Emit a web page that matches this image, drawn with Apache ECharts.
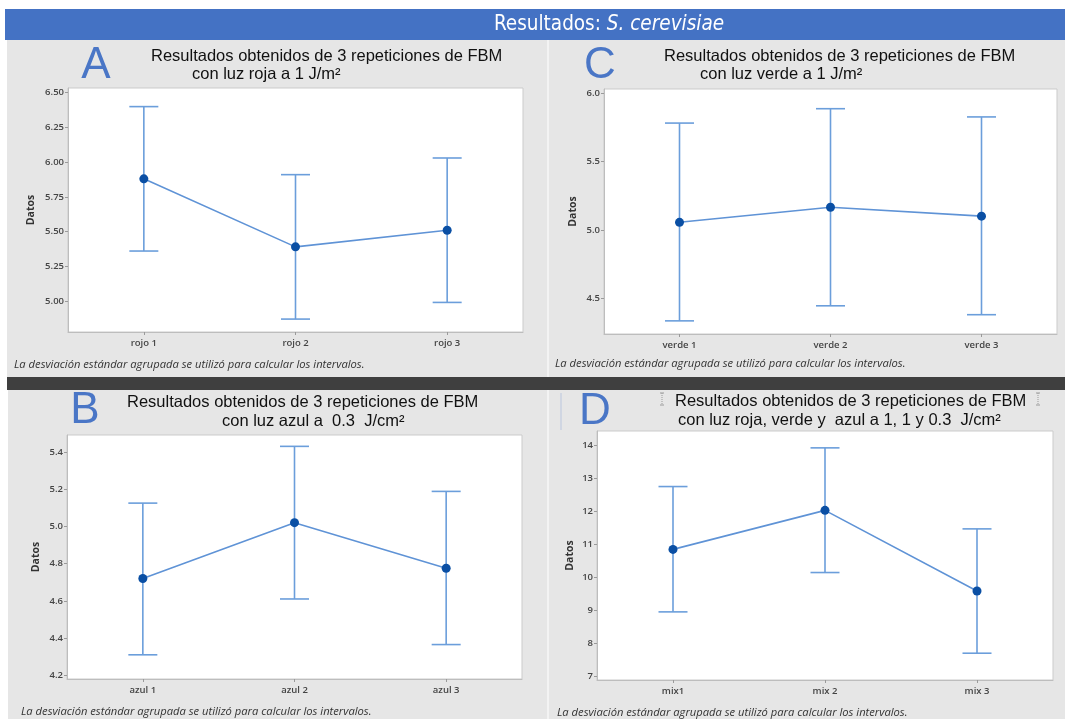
<!DOCTYPE html>
<html>
<head>
<meta charset="utf-8">
<script src="https://cdn.jsdelivr.net/npm/echarts@6/dist/echarts.min.js"></script>
<style>
  html, body { margin: 0; padding: 0; background: #ffffff; }
  #chart { width: 1065px; height: 719px; }
</style>
</head>
<body>
<div id="chart"></div>
<script>
// Panel A: red light
const catsA = ['rojo 1', 'rojo 2', 'rojo 3'];
const meanA = [5.88, 5.39, 5.51];
const lowA  = [5.36, 4.87, 4.99];
const highA = [6.40, 5.91, 6.03];
const ticksA = [5.00, 5.25, 5.50, 5.75, 6.00, 6.25, 6.50];

// Panel C: green light
const catsC = ['verde 1', 'verde 2', 'verde 3'];
const meanC = [5.055, 5.165, 5.10];
const lowC  = [4.335, 4.445, 4.38];
const highC = [5.78, 5.885, 5.825];
const ticksC = [4.5, 5.0, 5.5, 6.0];

// Panel B: blue light
const catsB = ['azul 1', 'azul 2', 'azul 3'];
const meanB = [4.72, 5.02, 4.775];
const lowB  = [4.31, 4.61, 4.365];
const highB = [5.125, 5.43, 5.188];
const ticksB = [4.2, 4.4, 4.6, 4.8, 5.0, 5.2, 5.4];

// Panel D: combined light
const catsD = ['mix1', 'mix 2', 'mix 3'];
const meanD = [10.84, 12.02, 9.58];
const lowD  = [8.95, 10.14, 7.70];
const highD = [12.74, 13.91, 11.46];
const ticksD = [7, 8, 9, 10, 11, 12, 13, 14];

const note = 'La desviación estándar agrupada se utilizó para calcular los intervalos.';

const chart = echarts.init(document.getElementById('chart'), null, { renderer: 'canvas', width: 1065, height: 719 });

const axisFont = 'Open Sans, sans-serif';
const titleFont = 'Liberation Sans, Arial, sans-serif';

const panels = [
  { cats: catsA, mean: meanA, low: lowA, high: highA, ticks: ticksA, dec: 2,
    grid: { left: 68, top: 88, width: 455, height: 244 }, min: 4.777, max: 6.534, nameGap: 31 },
  { cats: catsC, mean: meanC, low: lowC, high: highC, ticks: ticksC, dec: 1,
    grid: { left: 604, top: 89, width: 453, height: 245 }, min: 4.239, max: 6.029, nameGap: 25 },
  { cats: catsB, mean: meanB, low: lowB, high: highB, ticks: ticksB, dec: 1,
    grid: { left: 67, top: 435, width: 455, height: 244 }, min: 4.18, max: 5.491, nameGap: 25 },
  { cats: catsD, mean: meanD, low: lowD, high: highD, ticks: ticksD, dec: 0,
    grid: { left: 597, top: 431, width: 456, height: 249 }, min: 6.89, max: 14.42, nameGap: 21 }
];

const grids = [], xAxes = [], yAxes = [], series = [], frames = [];

panels.forEach(function (p, i) {
  grids.push(Object.assign({ show: false }, p.grid));

  // white plotting area with a thin frame
  frames.push({
    type: 'rect', z: -5, silent: true,
    shape: { x: p.grid.left, y: p.grid.top, width: p.grid.width, height: p.grid.height },
    style: { fill: '#ffffff', stroke: '#cbcbcb', lineWidth: 1 }
  });

  xAxes.push({
    type: 'category', gridIndex: i, data: p.cats, boundaryGap: true,
    axisLine: { show: true, lineStyle: { color: '#bdbdbd', width: 1 } },
    axisTick: { show: true, alignWithLabel: true, length: 3, lineStyle: { color: '#9a9a9a' } },
    axisLabel: { fontFamily: axisFont, fontSize: 9.5, fontWeight: 600, color: '#444', margin: 6 },
    splitLine: { show: false }
  });

  yAxes.push({
    type: 'value', gridIndex: i, min: p.min, max: p.max,
    name: 'Datos', nameLocation: 'middle', nameGap: p.nameGap, nameRotate: 90,
    nameMoveOverlap: false,
    nameTextStyle: { fontFamily: axisFont, fontSize: 10.5, fontWeight: 'bold', color: '#333' },
    axisLine: { show: true, lineStyle: { color: '#bdbdbd', width: 1 } },
    axisTick: { show: true, length: 3, customValues: p.ticks, lineStyle: { color: '#9a9a9a' } },
    axisLabel: {
      fontFamily: axisFont, fontSize: 9.5, fontWeight: 600, color: '#444', margin: 4,
      customValues: p.ticks,
      formatter: function (v) { return Number(v).toFixed(p.dec); }
    },
    splitLine: { show: false }
  });

  // Interval bars (low–high with caps)
  series.push({
    type: 'custom', xAxisIndex: i, yAxisIndex: i, z: 2, silent: true,
    data: p.cats.map(function (c, k) { return [k, p.low[k], p.high[k]]; }),
    encode: { x: 0, y: [1, 2] },
    renderItem: function (params, api) {
      const top = api.coord([api.value(0), api.value(2)]);
      const bot = api.coord([api.value(0), api.value(1)]);
      const hw = 14.5;
      const st = { stroke: '#6b9edb', lineWidth: 1.6 };
      return {
        type: 'group',
        children: [
          { type: 'line', shape: { x1: top[0], y1: top[1], x2: bot[0], y2: bot[1] }, style: st },
          { type: 'line', shape: { x1: top[0] - hw, y1: top[1], x2: top[0] + hw, y2: top[1] }, style: st },
          { type: 'line', shape: { x1: bot[0] - hw, y1: bot[1], x2: bot[0] + hw, y2: bot[1] }, style: st }
        ]
      };
    }
  });

  // Means joined by a line
  series.push({
    type: 'line', xAxisIndex: i, yAxisIndex: i, z: 3, data: p.mean,
    symbol: 'circle', symbolSize: 9,
    itemStyle: { color: '#0a4fa4' },
    lineStyle: { color: '#5f93d6', width: 1.6 }
  });
});

function txt(x, y, text, opts) {
  return {
    type: 'text', x: x, y: y, silent: true, z: 10,
    style: Object.assign({ text: text, fill: '#111', font: '16.5px ' + titleFont, align: 'left', verticalAlign: 'middle' }, opts || {})
  };
}

const letterStyle = { fill: '#4a76c6', font: '44px Liberation Sans, Arial, sans-serif', align: 'center' };
const noteStyle = { fill: '#333', font: 'italic 11.2px Open Sans, sans-serif' };
const bannerFont = '20.5px Liberation Sans Narrow, DejaVu Sans Condensed, Liberation Sans, sans-serif';

const graphics = [
  // backgrounds
  { type: 'rect', shape: { x: 5, y: 9, width: 1060, height: 31 }, style: { fill: '#4472c4' }, z: -10 },
  { type: 'rect', shape: { x: 7, y: 40, width: 1058, height: 337 }, style: { fill: '#e6e6e6' }, z: -10 },
  { type: 'rect', shape: { x: 7, y: 377, width: 1058, height: 13 }, style: { fill: '#3f3f3f' }, z: -10 },
  { type: 'rect', shape: { x: 8, y: 390, width: 1057, height: 329 }, style: { fill: '#e6e6e6' }, z: -10 },
  { type: 'line', shape: { x1: 548, y1: 40, x2: 548, y2: 377 }, style: { stroke: '#f3f3f3', lineWidth: 2 }, z: -9 },
  { type: 'line', shape: { x1: 548, y1: 390, x2: 548, y2: 719 }, style: { stroke: '#f3f3f3', lineWidth: 2 }, z: -9 },
  { type: 'line', shape: { x1: 561, y1: 393, x2: 561, y2: 430 }, style: { stroke: '#c9d0e0', lineWidth: 1.5 }, z: -9 },

  // banner
  {
    type: 'text', x: 609, y: 25, z: 10, silent: true,
    style: {
      text: '{n|Resultados: }{i|S. cerevisiae}', align: 'center', verticalAlign: 'middle',
      rich: {
        n: { fill: '#ffffff', font: bannerFont },
        i: { fill: '#ffffff', font: 'italic ' + bannerFont }
      }
    }
  },

  // panel letters
  txt(96, 66, 'A', letterStyle),
  txt(600, 66, 'C', letterStyle),
  txt(85, 411, 'B', letterStyle),
  txt(595, 412, 'D', letterStyle),

  // panel titles
  txt(151, 56, 'Resultados obtenidos de 3 repeticiones de FBM'),
  txt(192, 74, 'con luz roja a 1 J/m²'),
  txt(664, 56, 'Resultados obtenidos de 3 repeticiones de FBM'),
  txt(700, 74, 'con luz verde a 1 J/m²'),
  txt(127, 402, 'Resultados obtenidos de 3 repeticiones de FBM'),
  txt(222, 421, 'con luz azul a  0.3  J/cm²'),
  txt(675, 401, 'Resultados obtenidos de 3 repeticiones de FBM'),
  txt(678, 420, 'con luz roja, verde y  azul a 1, 1 y 0.3  J/cm²'),

  // small cursor marks beside the D title
  { type: 'polyline', shape: { points: [[660, 393], [664, 393]] }, style: { stroke: '#9a9a9a', lineWidth: 1 }, z: 10 },
  { type: 'line', shape: { x1: 662, y1: 393, x2: 662, y2: 405 }, style: { stroke: '#9a9a9a', lineWidth: 1, lineDash: [1, 1] }, z: 10 },
  { type: 'polyline', shape: { points: [[660, 405], [664, 405]] }, style: { stroke: '#9a9a9a', lineWidth: 1 }, z: 10 },
  { type: 'polyline', shape: { points: [[1036, 393], [1040, 393]] }, style: { stroke: '#9a9a9a', lineWidth: 1 }, z: 10 },
  { type: 'line', shape: { x1: 1038, y1: 393, x2: 1038, y2: 405 }, style: { stroke: '#9a9a9a', lineWidth: 1, lineDash: [1, 1] }, z: 10 },
  { type: 'polyline', shape: { points: [[1036, 405], [1040, 405]] }, style: { stroke: '#9a9a9a', lineWidth: 1 }, z: 10 },

  // footnotes
  txt(14, 365, note, noteStyle),
  txt(555, 364, note, noteStyle),
  txt(21, 712, note, noteStyle),
  txt(557, 713, note, noteStyle)
].concat(frames);

chart.setOption({
  animation: false,
  backgroundColor: '#ffffff',
  grid: grids,
  xAxis: xAxes,
  yAxis: yAxes,
  series: series,
  graphic: { elements: graphics }
});
</script>
</body>
</html>
